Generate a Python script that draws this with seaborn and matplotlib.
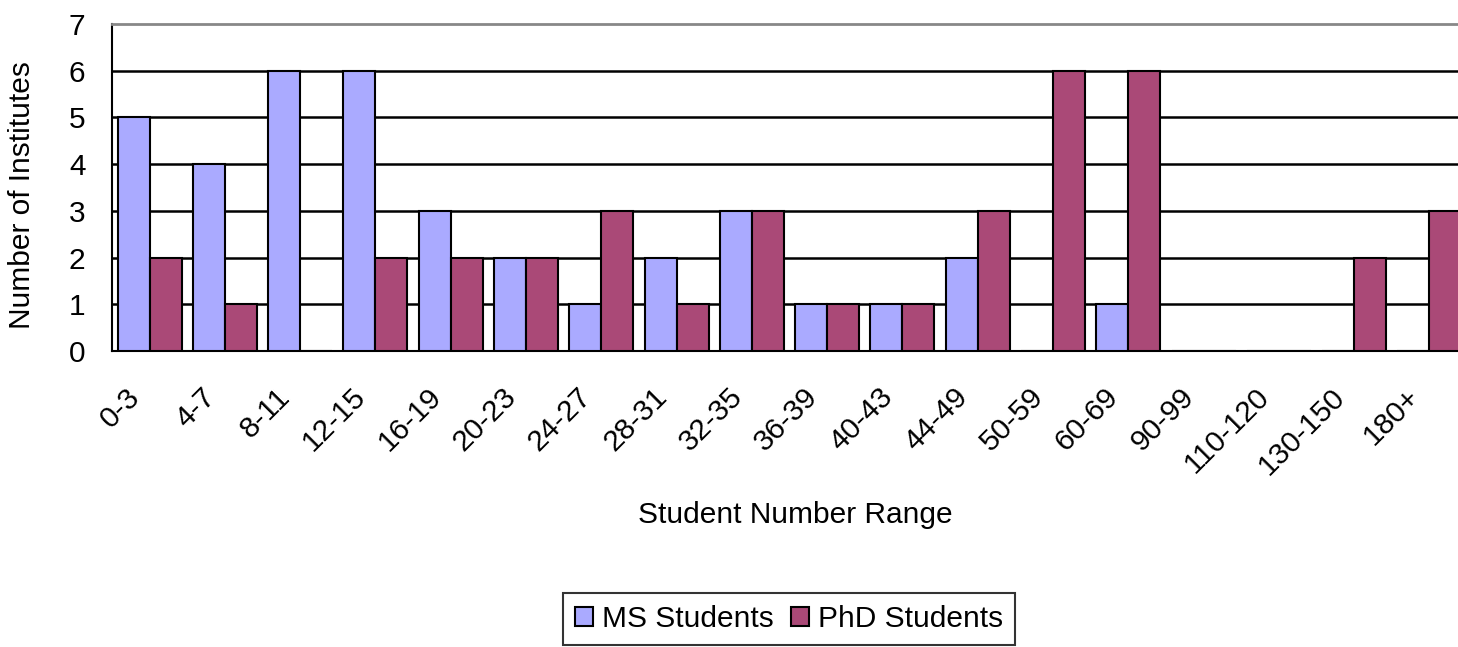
import pandas as pd
import seaborn as sns
import matplotlib.pyplot as plt
from matplotlib.ticker import FixedLocator
from matplotlib.transforms import ScaledTranslation

ranges = ['0-3', '4-7', '8-11', '12-15', '16-19', '20-23', '24-27', '28-31', '32-35',
          '36-39', '40-43', '44-49', '50-59', '60-69', '90-99', '110-120', '130-150', '180+']
ms_students = [5, 4, 6, 6, 3, 2, 1, 2, 3, 1, 1, 2, 0, 1, 0, 0, 0, 0]
phd_students = [2, 1, 0, 2, 2, 2, 3, 1, 3, 1, 1, 3, 6, 6, 0, 0, 2, 3]
series = ['MS Students', 'PhD Students']
colors = ['#AAAAFF', '#AA4977']

df = pd.DataFrame({'range': ranges * 2,
                   'count': ms_students + phd_students,
                   'series': [series[0]] * len(ranges) + [series[1]] * len(ranges)})

sns.set_style('white')
plt.rcParams['font.family'] = ['Liberation Sans', 'DejaVu Sans']
plt.rcParams['text.color'] = 'black'
plt.rcParams['axes.labelcolor'] = 'black'
plt.rcParams['xtick.color'] = 'black'
plt.rcParams['ytick.color'] = 'black'
fs = 21.5

fig = plt.figure(figsize=(14.58, 6.47), dpi=100)
ax = fig.add_axes([112 / 1458, 1 - 351 / 647, (1467 - 112) / 1458, (351 - 24) / 647])

sns.barplot(data=df, x='range', y='count', hue='series', order=ranges,
            palette=colors, width=0.85, edgecolor='black', linewidth=1.5,
            saturation=1, ax=ax, zorder=3)

ax.set_ylim(0, 7)
ax.set_xlim(-0.5, len(ranges) - 0.5)
ax.set_yticks(range(0, 8))
for y in range(1, 7):
    ax.axhline(y, color='black', lw=1.8, zorder=1)

# ticks between categories, labels at centres
ax.xaxis.set_minor_locator(FixedLocator([i - 0.5 for i in range(len(ranges) + 1)]))
ax.tick_params(axis='x', which='minor', length=8, width=1.5, color='black', direction='out')
ax.tick_params(axis='x', which='major', length=0, pad=30)
ax.tick_params(axis='y', length=8, width=1.5, color='black', direction='out', labelsize=fs, pad=11)
ax.set_xticks(range(len(ranges)))
ax.set_xticklabels(ranges, rotation=45, ha='right', va='center', rotation_mode='anchor', fontsize=fs)
nudge = ScaledTranslation(-14 / 100, 0, fig.dpi_scale_trans)
for lab in ax.get_xticklabels():
    lab.set_transform(lab.get_transform() + nudge)

for s in ['left', 'bottom']:
    ax.spines[s].set_color('black')
    ax.spines[s].set_linewidth(1.5)
ax.spines['top'].set_color('#888888')
ax.spines['top'].set_linewidth(2)
ax.spines['right'].set_visible(False)

ax.set_xlabel('Student Number Range', fontsize=fs)
ax.xaxis.set_label_coords((795 - 112) / 1355, -0.46)
ax.set_ylabel('Number of Institutes', fontsize=fs)
ax.yaxis.set_label_coords(-0.056, (351 - 195) / 327)

handles, labels = ax.get_legend_handles_labels()
leg = ax.legend(handles, labels, loc='lower center', bbox_to_anchor=(789 / 1458, 0.003),
                bbox_transform=fig.transFigure, ncol=2, frameon=True, fancybox=False,
                edgecolor='black', fontsize=fs, handlelength=0.6, handleheight=0.6,
                handletextpad=0.3, columnspacing=0.6, borderpad=0.4, borderaxespad=0)
leg.get_frame().set_linewidth(1.5)

fig.savefig('out.png', dpi=100)
